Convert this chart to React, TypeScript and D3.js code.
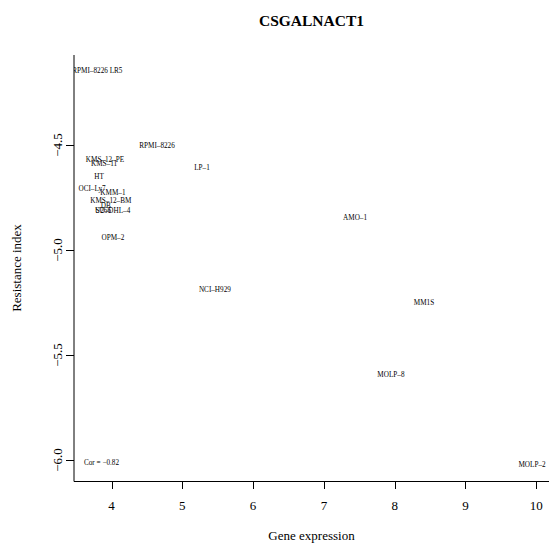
import React from "react";
import * as d3 from "d3";

// Cell lines with their gene expression and resistance index
const cellLines = [
  "RPMI–8226 LR5", "RPMI–8226", "KMS–12–PE", "KMS–11", "HT", "OCI–Ly7",
  "KMM–1", "KMS–12–BM", "DB", "U266", "SU–DHL–4", "OPM–2", "LP–1",
  "AMO–1", "NCI–H929", "MM1S", "MOLP–8", "MOLP–2",
];
const expression = [
  3.80, 4.643, 3.908, 3.894, 3.823, 3.725,
  4.02, 3.99, 3.92, 3.88, 4.02, 4.02, 5.278,
  7.44, 5.46, 8.414, 7.947, 9.94,
];
const resistance = [
  -4.143, -4.5, -4.567, -4.59, -4.652, -4.705,
  -4.724, -4.762, -4.786, -4.81, -4.814, -4.938, -4.605,
  -4.843, -5.19, -5.248, -5.595, -6.02,
];
const xTicks = [4, 5, 6, 7, 8, 9, 10];
const yTicks = [-4.5, -5.0, -5.5, -6.0];
const title = "CSGALNACT1";
const corLabel = "Cor = −0.82";

const W = 549;
const H = 547;
const left = 74;
const right = 549;
const top = 55;
const bottom = 481;
const font = "'Liberation Serif', 'Times New Roman', serif";

export default function App() {
  const x = d3.scaleLinear().domain([3.47, 10.18]).range([left, right]);
  const y = d3.scaleLinear().domain([-6.1, -4.0714]).range([bottom, top]);
  const fmt = (v: number) => v.toFixed(1).replace("-", "−");

  return (
    <svg width={W} height={H} style={{ position: "absolute", left: 0, top: 0, background: "#fff" }} fontFamily={font}>
      <defs>
        <clipPath id="plotArea">
          <rect x={left} y={top} width={right - left} height={bottom - top} />
        </clipPath>
      </defs>

      <text x={(left + right) / 2} y={26} textAnchor="middle" fontWeight="bold" fontSize={15.5}>
        {title}
      </text>

      {/* L-shaped frame */}
      <line x1={left} y1={top} x2={left} y2={bottom + 0.5} stroke="#000" strokeWidth={1} />
      <line x1={left} y1={bottom + 0.5} x2={right} y2={bottom + 0.5} stroke="#000" strokeWidth={1} />

      {/* x axis */}
      {xTicks.map((t) => (
        <g key={"x" + t}>
          <line x1={Math.round(x(t)) + 0.5} x2={Math.round(x(t)) + 0.5} y1={bottom} y2={bottom + 8} stroke="#000" />
          <text x={x(t)} y={510} textAnchor="middle" fontSize={13}>{t}</text>
        </g>
      ))}
      <text x={(left + right) / 2} y={540} textAnchor="middle" fontSize={13}>Gene expression</text>

      {/* y axis */}
      {yTicks.map((t) => (
        <g key={"y" + t}>
          <line x1={left - 8} x2={left} y1={Math.round(y(t)) + 0.5} y2={Math.round(y(t)) + 0.5} stroke="#000" />
          <text transform={`translate(62,${y(t)}) rotate(-90)`} textAnchor="middle" fontSize={13}>{fmt(t)}</text>
        </g>
      ))}
      <text transform={`translate(21,${(top + bottom) / 2}) rotate(-90)`} textAnchor="middle" fontSize={13}>
        Resistance index
      </text>

      {/* point labels, clipped to the plotting region */}
      <g clipPath="url(#plotArea)">
        {cellLines.map((name, i) => (
          <text key={name} x={x(expression[i])} y={y(resistance[i])} dy="0.35em" textAnchor="middle" fontSize={7.2}>
            {name}
          </text>
        ))}
        <text x={101.5} y={462} dy="0.35em" textAnchor="middle" fontSize={7.2}>{corLabel}</text>
      </g>
    </svg>
  );
}
